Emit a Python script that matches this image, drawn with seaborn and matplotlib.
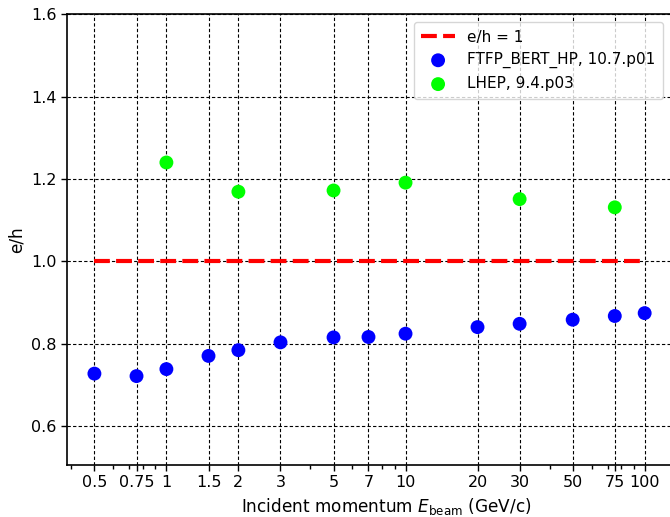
import matplotlib
matplotlib.use("Agg")
import matplotlib.pyplot as plt
import seaborn as sns
import numpy as np
from matplotlib.ticker import FixedLocator, FixedFormatter, LogLocator, NullFormatter

plt.rcParams['font.family'] = ['DejaVu Sans']
plt.rcParams['text.color'] = 'black'
plt.rcParams['axes.labelcolor'] = 'black'

# Data
ftfp_x = [0.5, 0.75, 1, 1.5, 2, 3, 5, 7, 10, 20, 30, 50, 75, 100]
ftfp_y = [0.727, 0.721, 0.738, 0.770, 0.784, 0.803, 0.815, 0.816, 0.824, 0.840, 0.848, 0.858, 0.867, 0.874]
lhep_x = [1, 2, 5, 10, 30, 75]
lhep_y = [1.240, 1.169, 1.172, 1.191, 1.151, 1.131]
ref_x = [0.5, 100]
ref_y = [1.0, 1.0]
xtick_vals = [0.5, 0.75, 1, 1.5, 2, 3, 5, 7, 10, 20, 30, 50, 75, 100]
xtick_labels = ["0.5", "0.75", "1", "1.5", "2", "3", "5", "7", "10", "20", "30", "50", "75", "100"]
ytick_vals = [0.6, 0.8, 1.0, 1.2, 1.4, 1.6]

fig = plt.figure(figsize=(6.7, 5.17), dpi=100)
ax = fig.add_axes([0.1, 0.1006, 0.952, 0.8717])

sns.lineplot(x=ref_x, y=ref_y, ax=ax, color='#ff0000', lw=3, label='e/h = 1')
ax.lines[0].set_dashes((3.8, 1.5))
sns.scatterplot(x=ftfp_x, y=ftfp_y, ax=ax, color='#0000ff', s=100, edgecolor='none',
                label='FTFP_BERT_HP, 10.7.p01', zorder=3)
sns.scatterplot(x=lhep_x, y=lhep_y, ax=ax, color='#00ff00', s=100, edgecolor='none',
                label='LHEP, 9.4.p03', zorder=3)

ax.set_xscale('log')
ax.set_xlim(0.384, 178.5)
ax.set_ylim(0.505, 1.6)
ax.xaxis.set_major_locator(FixedLocator(xtick_vals))
ax.xaxis.set_major_formatter(FixedFormatter(xtick_labels))
ax.xaxis.set_minor_locator(LogLocator(base=10.0, subs=(2., 3., 4., 5., 6., 7., 8., 9.), numticks=50))
ax.xaxis.set_minor_formatter(NullFormatter())
ax.xaxis.remove_overlapping_locs = True
ax.set_yticks(ytick_vals)
ax.set_yticklabels([f"{v:.1f}" for v in ytick_vals])

ax.tick_params(axis='both', which='major', direction='out', length=4, width=1,
               labelsize=11.5, left=True, bottom=True, colors='black')
ax.tick_params(axis='x', which='minor', direction='out', length=3, width=1,
               bottom=True, color='black')

ax.grid(True, which='major', color='black', linestyle=(0, (3, 2)), linewidth=0.8)
ax.grid(False, which='minor')
for s in ax.spines.values():
    s.set_color('black')
    s.set_linewidth(1.2)

ax.set_xlabel(r'Incident momentum $E_{\rm beam}$ (GeV/c)', fontsize=12.2, labelpad=4)
ax.set_ylabel('e/h', fontsize=12.2)

ax.legend(loc='upper right', bbox_to_anchor=(663 / 670, 1 - 22 / 517),
          bbox_transform=fig.transFigure, borderaxespad=0,
          fontsize=11, frameon=True, fancybox=True,
          handlelength=2.2, borderpad=0.5, labelspacing=0.5)

fig.savefig('out.png', dpi=100)
